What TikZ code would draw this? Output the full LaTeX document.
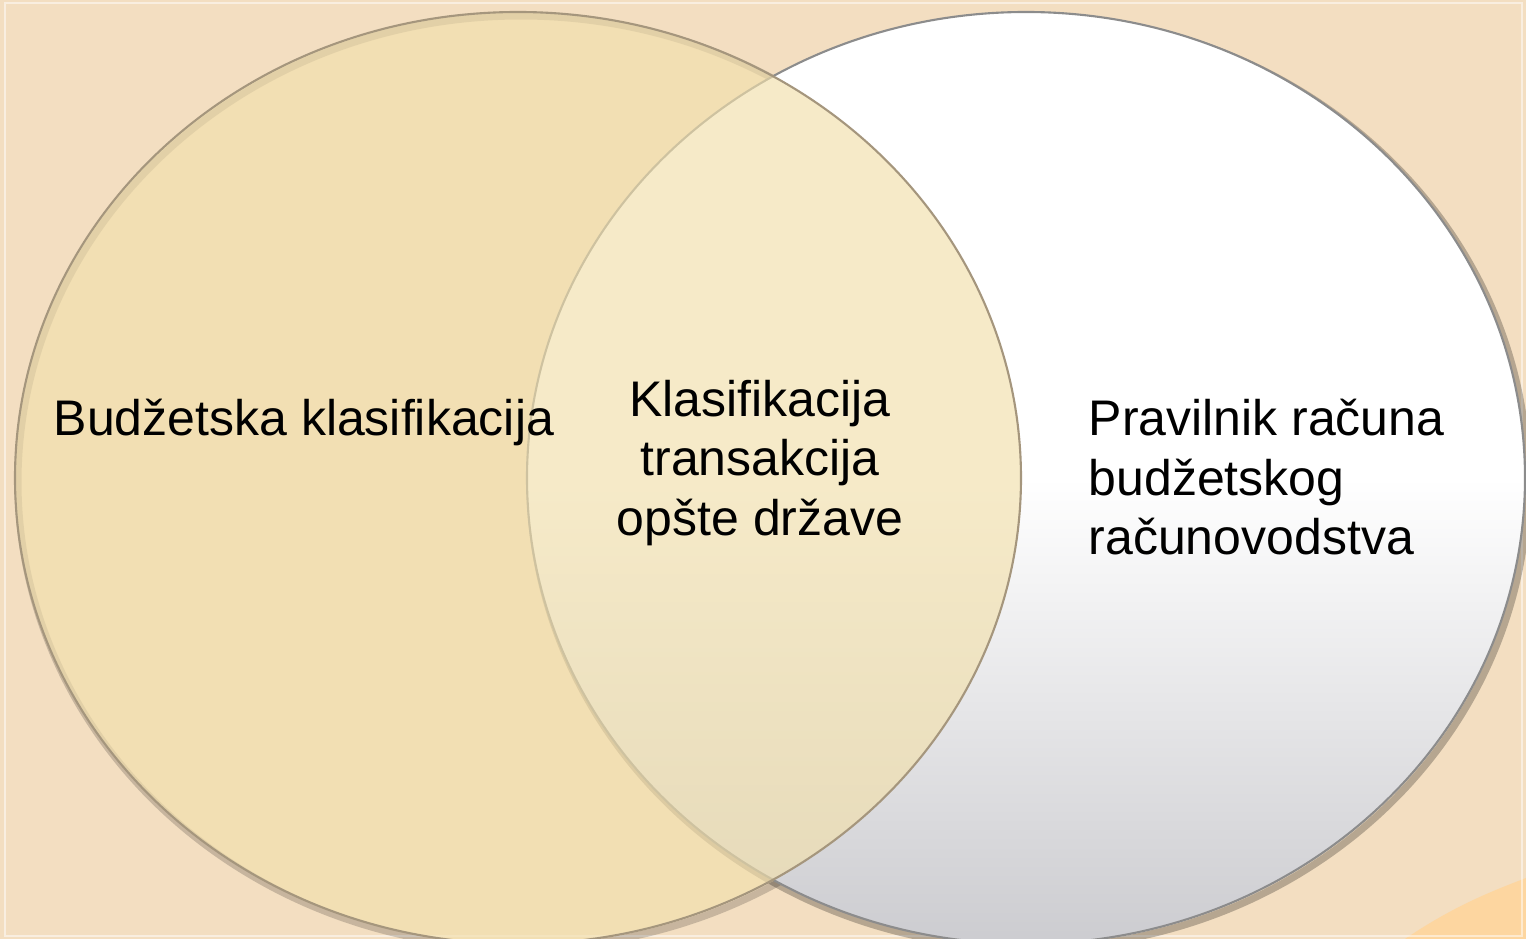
\documentclass[tikz,border=0pt]{standalone}
\usepackage{fontspec}
\setmainfont{Liberation Sans}
\usepackage{tikz}
\usetikzlibrary{positioning, shapes.geometric}
\definecolor{bgtan}{RGB}{243,222,193}
\definecolor{papyrus}{RGB}{242,224,172}
\definecolor{rimline}{RGB}{165,150,125}
\definecolor{cornerorange}{RGB}{253,214,160}
\definecolor{sheetgray}{RGB}{204,204,208}
\newcommand{\vennfont}{\fontsize{14.23}{17.07}\selectfont}

\begin{document}
\begin{tikzpicture}
    \tikzset {
        set node/.style={
                ellipse,
                inner sep=0pt,
                line width=0.6pt
            },
        shadow node/.style={
                set node,
                draw=black,
                draw opacity=0.18,
                line width=2pt
            },
        label node/.style={
                font=\vennfont,
                inner sep=0pt,
                text=black
            }}

    % background
    \useasboundingbox (0,0) rectangle (15.26,-9.39);
    \fill[bgtan] (0,0) rectangle (15.26,-9.39);
    \fill[cornerorange] (14.05,-9.39) .. controls (14.55,-9.05) and (14.95,-8.9) .. (15.26,-8.78) -- (15.26,-9.39) -- cycle;
    \draw[white, opacity=0.5, line width=0.4pt] (0.05,-0.03) rectangle (15.22,-9.36);

    % shadows
    \node[shadow node, minimum width=10.06cm, minimum height=9.32cm] (budzetshadow) at (5.21,-4.82) {};
    \node[shadow node, draw opacity=0.25, minimum width=9.98cm, minimum height=9.32cm] (pravilnikshadow) at (10.29,-4.82) {};

    % right set
    \node[set node, draw=black!45, top color=white, bottom color=sheetgray, middle color=white, minimum width=9.98cm, minimum height=9.32cm] (pravilnikset) at (10.26,-4.78) {};
    % left set
    \node[set node, draw=rimline, fill=papyrus, fill opacity=0.65, minimum width=10.06cm, minimum height=9.32cm] (budzetset) at (5.18,-4.78) {};

    % labels
    \node[label node, anchor=base west] (budzet) at (0.53,-4.36) {Budžetska klasifikacija};
    \node[label node, anchor=base, align=center] (gfs) at (7.60,-5.36) {Klasifikacija\\transakcija\\opšte države};
    \node[label node, anchor=base west, align=left] (pravilnik) at (10.88,-5.55) {Pravilnik računa\\budžetskog\\računovodstva};
\end{tikzpicture}
\end{document}
